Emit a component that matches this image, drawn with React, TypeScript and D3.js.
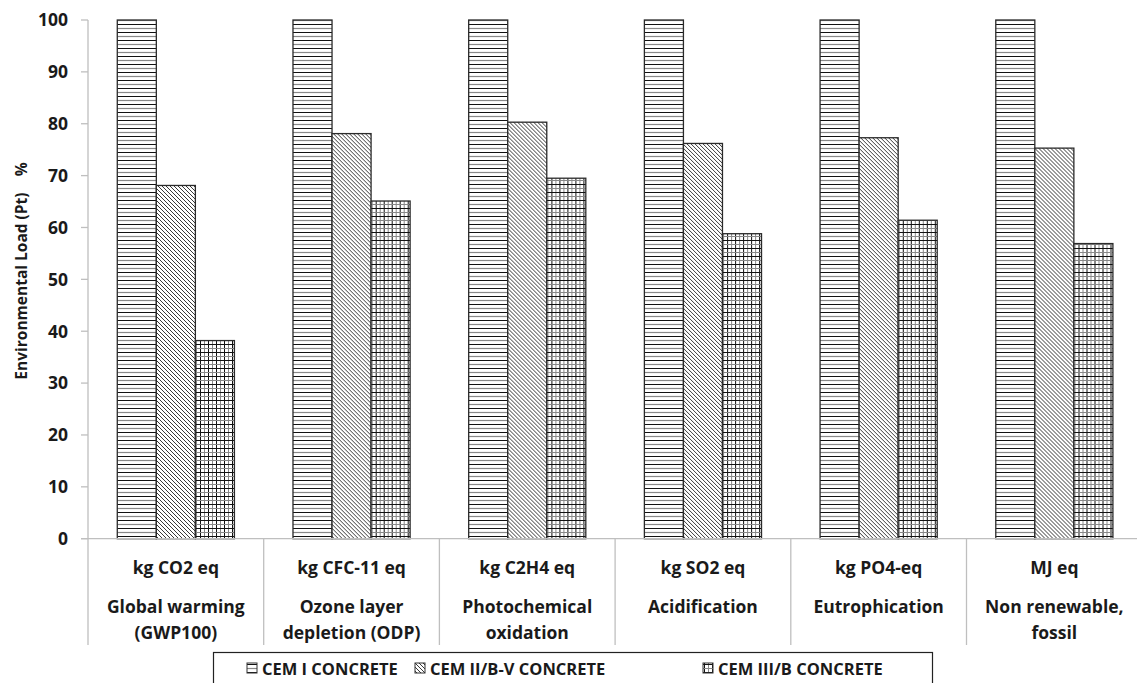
import React from "react";
import * as d3 from "d3";

const unitLabels = ["kg CO2 eq", "kg CFC-11 eq", "kg C2H4 eq", "kg SO2 eq", "kg PO4-eq", "MJ eq"];
const categoryLabels = [
  ["Global warming", "(GWP100)"],
  ["Ozone layer", "depletion (ODP)"],
  ["Photochemical", "oxidation"],
  ["Acidification"],
  ["Eutrophication"],
  ["Non renewable,", "fossil"],
];
const seriesNames = ["CEM I CONCRETE", "CEM II/B-V CONCRETE", "CEM III/B CONCRETE"];
const cem1 = [100, 100, 100, 100, 100, 100];
const cem2 = [68.1, 78.1, 80.3, 76.2, 77.3, 75.3];
const cem3 = [38.2, 65.1, 69.5, 58.8, 61.4, 56.9];
const yTicks = [0, 10, 20, 30, 40, 50, 60, 70, 80, 90, 100];

const W = 1137;
const H = 683;
const FONT = "'Open Sans', Lato, sans-serif";
const patternIds = ["pat-h", "pat-d", "pat-g"];

export default function App() {
  const series = [cem1, cem2, cem3];
  const left = 88;
  const catW = 175.7;
  const x0 = d3.scaleBand<string>().domain(unitLabels).range([left, left + catW * unitLabels.length]).padding(0);
  const x1 = d3.scaleBand<string>().domain(seriesNames).range([0, x0.bandwidth()]).paddingInner(0).paddingOuter(0.75);
  const y = d3.scaleLinear().domain([0, 100]).range([538.7, 20]);
  const axisColor = "#bfbfbf";
  const textColor = "#1a1a1a";

  return (
    <svg width={W} height={H} style={{ position: "absolute", left: 0, top: 0, background: "#fff" }} fontFamily={FONT}>
      <defs>
        <pattern id="pat-h" patternUnits="userSpaceOnUse" width={8} height={8}>
          <rect width={8} height={8} fill="#fff" />
          <line x1={0} x2={8} y1={0.5} y2={0.5} stroke="#111" strokeWidth={1} />
          <line x1={0} x2={8} y1={4.5} y2={4.5} stroke="#888" strokeWidth={1.2} />
        </pattern>
        <pattern id="pat-d" patternUnits="userSpaceOnUse" width={4} height={4}>
          <rect width={4} height={4} fill="#fff" />
          <path d="M-1,-1 L5,5 M-1,3 L1,5 M3,-1 L5,1" stroke="#222" strokeWidth={0.9} />
        </pattern>
        <pattern id="pat-g" patternUnits="userSpaceOnUse" width={8} height={8}>
          <rect width={8} height={8} fill="#fff" />
          <line x1={0.5} x2={0.5} y1={0} y2={8} stroke="#111" strokeWidth={1} />
          <line x1={4.5} x2={4.5} y1={0} y2={8} stroke="#888" strokeWidth={1} />
          <line x1={0} x2={8} y1={0.5} y2={0.5} stroke="#111" strokeWidth={1} />
          <line x1={0} x2={8} y1={4.5} y2={4.5} stroke="#888" strokeWidth={1} />
        </pattern>
      </defs>

      {/* y axis */}
      <line x1={left} x2={left} y1={y(100)} y2={y(0)} stroke={axisColor} strokeWidth={1.3} />
      {yTicks.map((t) => (
        <g key={t}>
          <line x1={left - 7} x2={left} y1={y(t)} y2={y(t)} stroke={axisColor} strokeWidth={1.3} />
          <text x={68} y={y(t)} dy="0.36em" textAnchor="end" fontSize={17.5} fontWeight={700} fill={textColor}>
            {t}
          </text>
        </g>
      ))}
      <text
        transform={`translate(22,271) rotate(-90)`}
        textAnchor="middle"
        dy="0.35em"
        fontSize={15.5}
        fontWeight={700}
        fill={textColor}
        style={{ whiteSpace: "pre" }}
      >
        {"Environmental Load (Pt)    %"}
      </text>

      {/* bars */}
      {unitLabels.map((u, i) => (
        <g key={u} transform={`translate(${x0(u)},0)`}>
          {seriesNames.map((s, j) => (
            <rect
              key={s}
              x={x1(s)}
              y={y(series[j][i])}
              width={x1.bandwidth()}
              height={y(0) - y(series[j][i])}
              fill={`url(#${patternIds[j]})`}
              stroke="#2a2a2a"
              strokeWidth={1.3}
            />
          ))}
        </g>
      ))}

      {/* x axis */}
      <line x1={left - 7} x2={W} y1={y(0)} y2={y(0)} stroke={axisColor} strokeWidth={1.3} />
      {d3.range(unitLabels.length + 1).map((k) => {
        const xx = left + k * x0.step();
        return <line key={k} x1={xx} x2={xx} y1={y(0)} y2={645} stroke={axisColor} strokeWidth={1.3} />;
      })}
      {unitLabels.map((u, i) => {
        const cx = (x0(u) as number) + x0.bandwidth() / 2;
        return (
          <g key={u}>
            <text x={cx} y={574} textAnchor="middle" fontSize={17.5} fontWeight={700} fill={textColor}>
              {u}
            </text>
            {categoryLabels[i].map((l, k) => (
              <text key={k} x={cx} y={613 + k * 26} textAnchor="middle" fontSize={17.5} fontWeight={700} fill={textColor}>
                {l}
              </text>
            ))}
          </g>
        );
      })}

      {/* legend */}
      <rect x={213.5} y={652.5} width={719} height={50} fill="#fff" stroke="#222" strokeWidth={1.2} />
      {seriesNames.map((s, j) => {
        const lx = [247, 415, 703][j];
        return (
          <g key={s}>
            <rect x={lx} y={663} width={10} height={10} fill={`url(#${patternIds[j]})`} stroke="#333" strokeWidth={1} />
            <text x={lx + 15} y={675} fontSize={16.5} fontWeight={700} fill={textColor}>
              {s}
            </text>
          </g>
        );
      })}
    </svg>
  );
}
